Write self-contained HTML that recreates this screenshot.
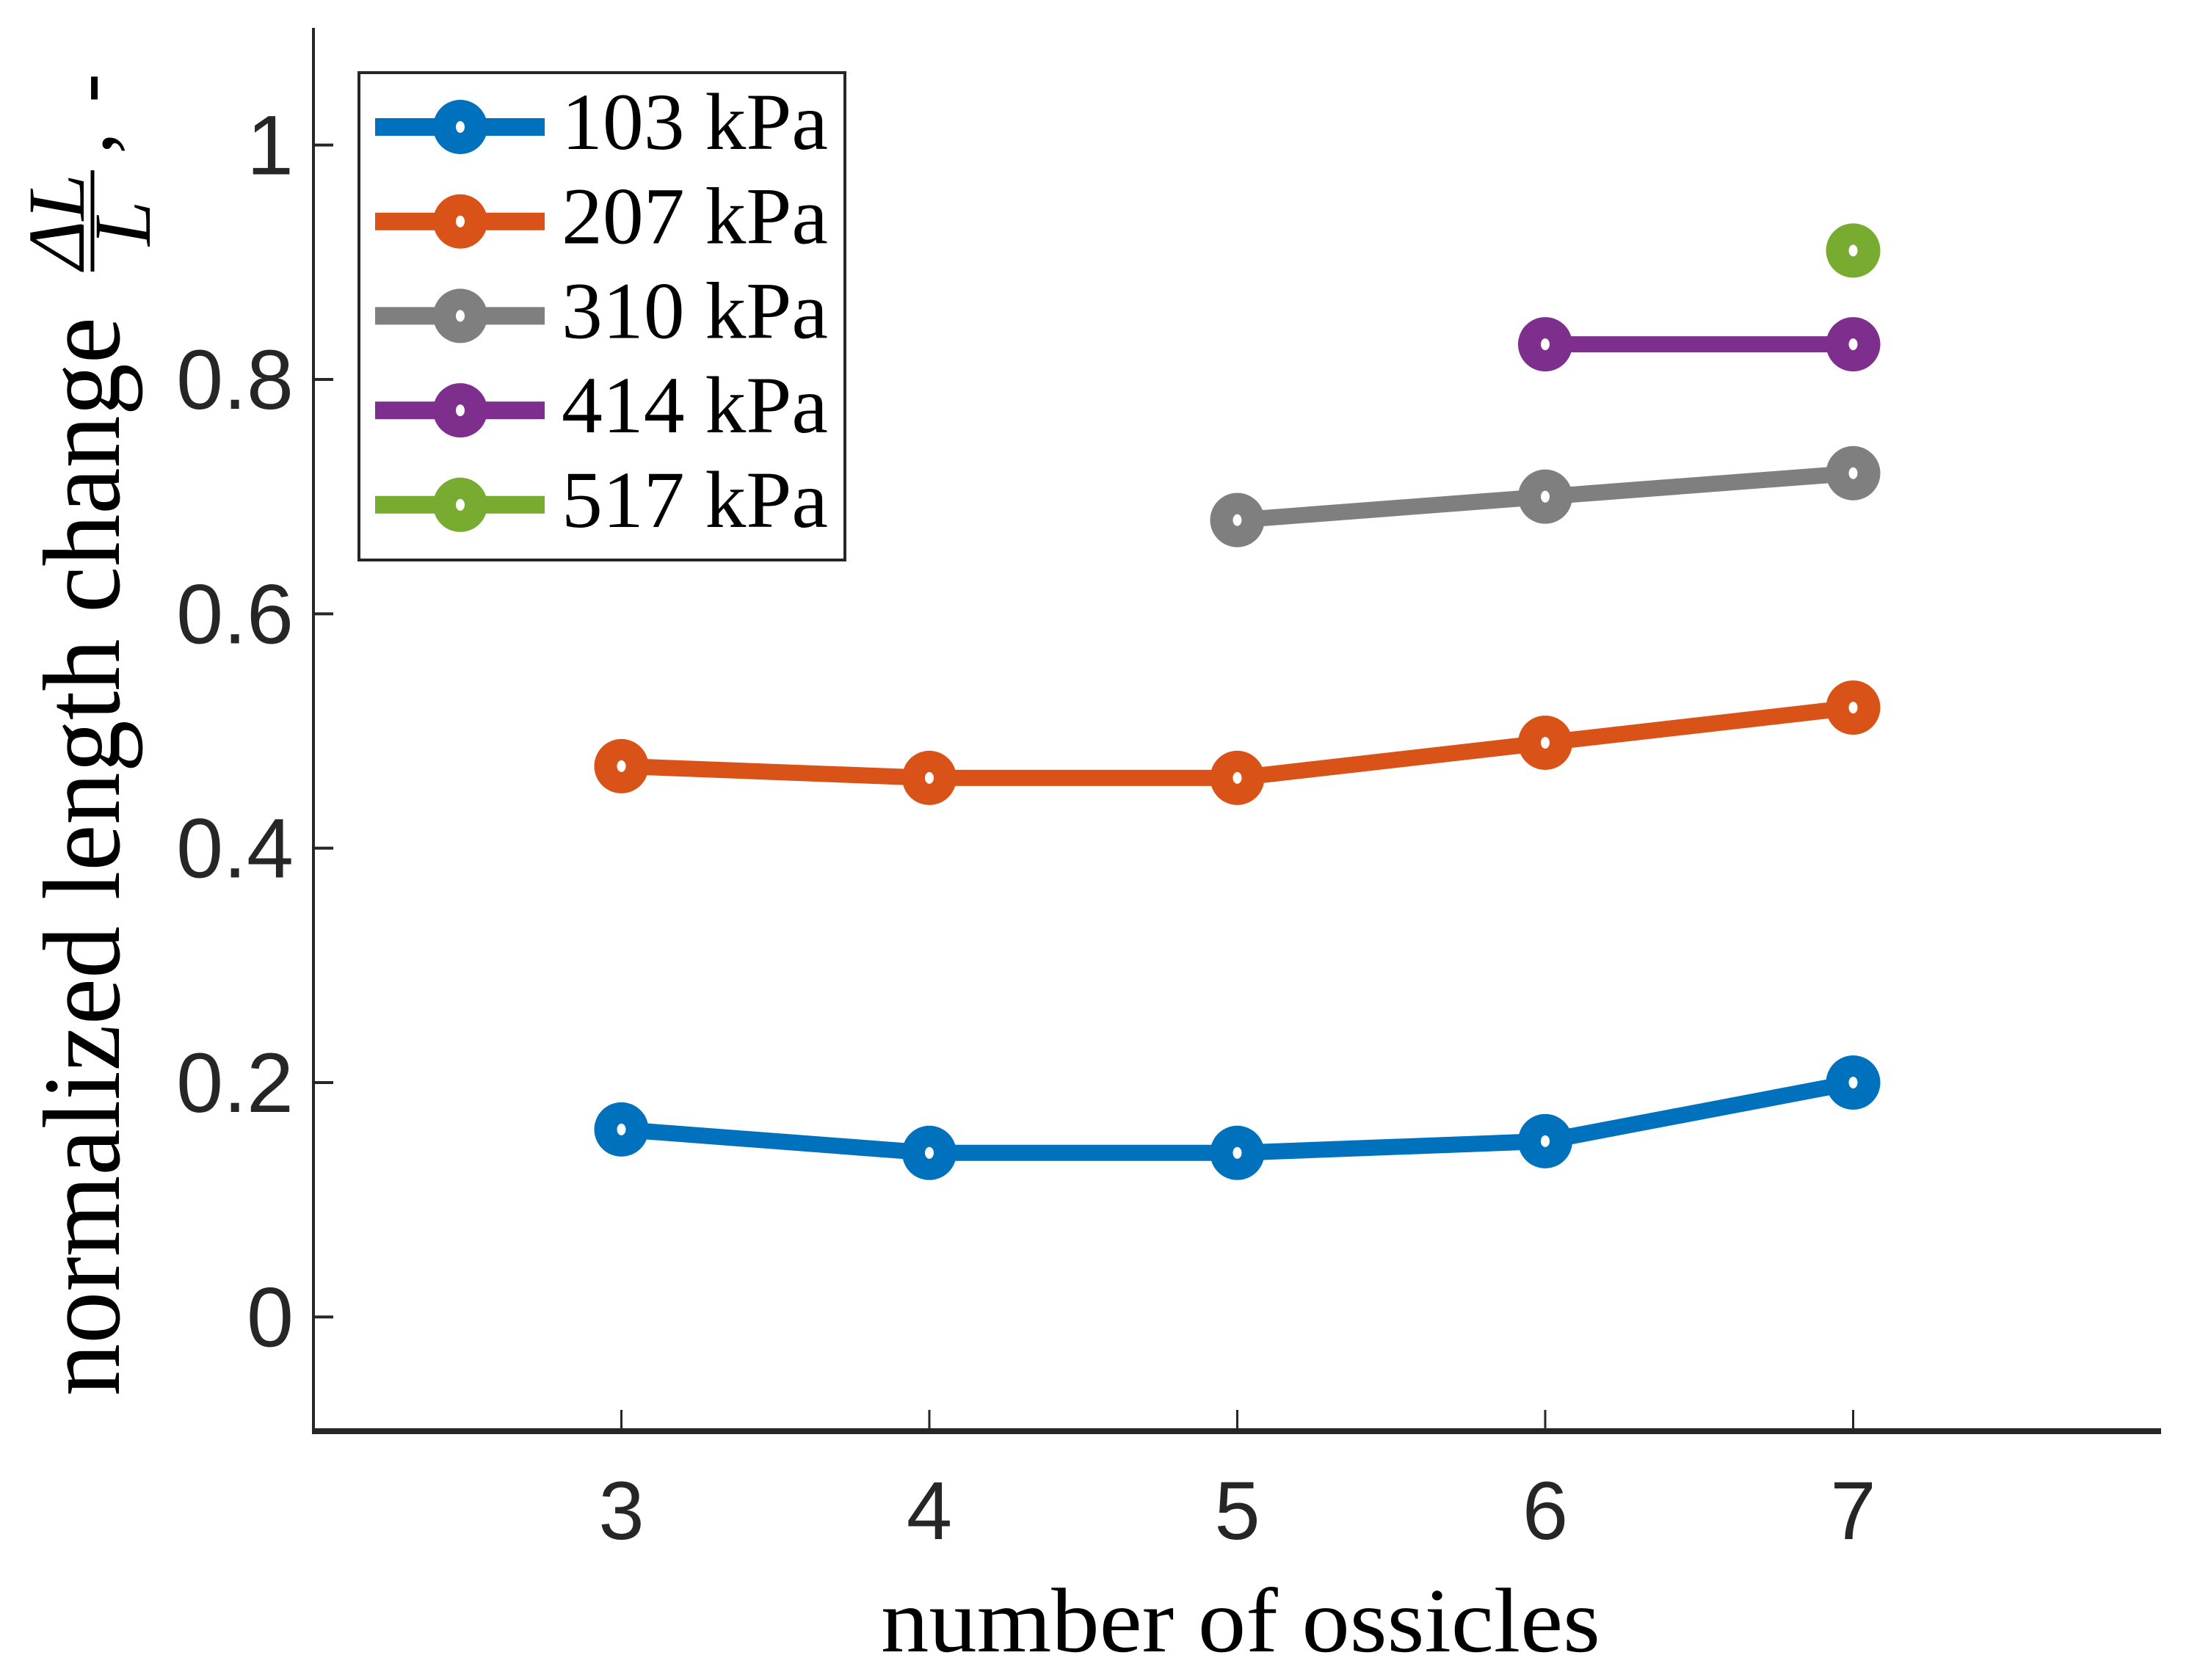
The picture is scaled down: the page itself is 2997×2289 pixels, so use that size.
<!DOCTYPE html>
<html><head><meta charset="utf-8"><style>html,body{margin:0;padding:0;background:#fff}svg{display:block}</style></head>
<body>
<svg id="chart" width="2997" height="2289" viewBox="0 0 2997 2289" xmlns="http://www.w3.org/2000/svg">
<rect width="2997" height="2289" fill="#fff"/>
<g id="axes"></g>
<g id="series"></g>
<g id="legend"></g>
<text x="1690" y="2250" font-family="Liberation Serif, serif" font-size="125" text-anchor="middle" textLength="980" lengthAdjust="spacingAndGlyphs" fill="#000">number of ossicles</text>
<g transform="translate(162,0) rotate(-90)" font-family="Liberation Serif, serif" fill="#000">
<text x="-1902" y="0" font-size="150" textLength="1470" lengthAdjust="spacingAndGlyphs">normalized length change</text>
<text x="-367" y="-48" font-size="110" font-style="italic" textLength="130" lengthAdjust="spacingAndGlyphs">ΔL</text>
<line x1="-370" y1="-36" x2="-232" y2="-36" stroke="#000" stroke-width="5"/>
<text x="-335" y="42" font-size="110" font-style="italic">L</text>
<text x="-210" y="-10" font-size="120">,</text>
<text x="-140" y="-5" font-size="120">-</text>
</g>
<script>
const xTicks=[3,4,5,6,7];
const yTicks=[0,0.2,0.4,0.6,0.8,1];
const yTickLabels=["0","0.2","0.4","0.6","0.8","1"];
const seriesNames=["103 kPa","207 kPa","310 kPa","414 kPa","517 kPa"];
const seriesColors=["#0072BD","#D95319","#7F7F7F","#7E2F8E","#77AC30"];
const x103=[3,4,5,6,7];
const y103=[0.16,0.14,0.14,0.15,0.20];
const x207=[3,4,5,6,7];
const y207=[0.47,0.46,0.46,0.49,0.52];
const x310=[5,6,7];
const y310=[0.68,0.70,0.72];
const x414=[6,7];
const y414=[0.83,0.83];
const x517=[7];
const y517=[0.91];
const seriesX=[x103,x207,x310,x414,x517];
const seriesY=[y103,y207,y310,y414,y517];

const L=427,R=2944,T=38,B=1954,xMin=2,xMax=8,yMin=-0.1,yMax=1.1;
const sx=v=>L+(v-xMin)/(xMax-xMin)*(R-L);
const sy=v=>B-(v-yMin)/(yMax-yMin)*(B-T);
const NS="http://www.w3.org/2000/svg";
function mk(tag,attrs,parent){const e=document.createElementNS(NS,tag);for(const k in attrs)e.setAttribute(k,attrs[k]);parent.appendChild(e);return e;}
const axes=document.getElementById('axes');
let e;
e=mk('line',{x1:L,y1:T,x2:L,y2:B,stroke:'#262626','stroke-width':4},axes);


e=mk('line',{x1:L-2,y1:B-4,x2:R,y2:B-4,stroke:'#262626','stroke-width':8},axes);


xTicks.forEach((t,i)=>{
  const x=sx(t);
  const tk=mk('line',{x1:x,y1:B-8,x2:x,y2:B-33,stroke:'#262626','stroke-width':3},axes);
  
  
  const lb=mk('text',{x:x,y:2097,'font-family':'Liberation Sans, sans-serif','font-size':112,'text-anchor':'middle',fill:'#262626'},axes);
  lb.textContent=String(t);
  
  
});
yTicks.forEach((t,i)=>{
  const y=sy(t);
  const tk=mk('line',{x1:L,y1:y,x2:L+27,y2:y,stroke:'#262626','stroke-width':4},axes);
  
  
  const lb=mk('text',{x:400,y:y+40,'font-family':'Liberation Sans, sans-serif','font-size':115,'text-anchor':'end',fill:'#262626'},axes);
  lb.textContent=yTickLabels[i];
  
  
});
function marker(g,cx,cy,c){
  mk('circle',{cx:cx,cy:cy,r:37,fill:c},g);
  mk('ellipse',{cx:cx,cy:cy,rx:6,ry:8,fill:'#fff'},g);
}
const sg=document.getElementById('series');
seriesX.forEach((xs,s)=>{
  const g=mk('g',{},sg);
  
  
  if(xs.length>1){
    const pts=xs.map((x,i)=>sx(x)+','+sy(seriesY[s][i])).join(' ');
    const pl=mk('polyline',{points:pts,fill:'none',stroke:seriesColors[s],'stroke-width':22,'stroke-linejoin':'round'},g);
    
    
  }
  xs.forEach((x,i)=>marker(g,sx(x),sy(seriesY[s][i]),seriesColors[s]));
});
const lg=document.getElementById('legend');
e=mk('rect',{x:489,y:99,width:662,height:664,fill:'#fff',stroke:'#262626','stroke-width':4},lg);


seriesNames.forEach((n,i)=>{
  const y=173+i*128.7;
  const g=mk('g',{},lg);
  
  
  mk('line',{x1:511,y1:y,x2:742,y2:y,stroke:seriesColors[i],'stroke-width':24},g);
  marker(g,627,y,seriesColors[i]);
  const t=mk('text',{x:765,y:y+30,'font-family':'Liberation Serif, serif','font-size':110,fill:'#000',textLength:363,lengthAdjust:'spacingAndGlyphs'},g);
  t.textContent=n;
});
</script>
</svg>
</body></html>
